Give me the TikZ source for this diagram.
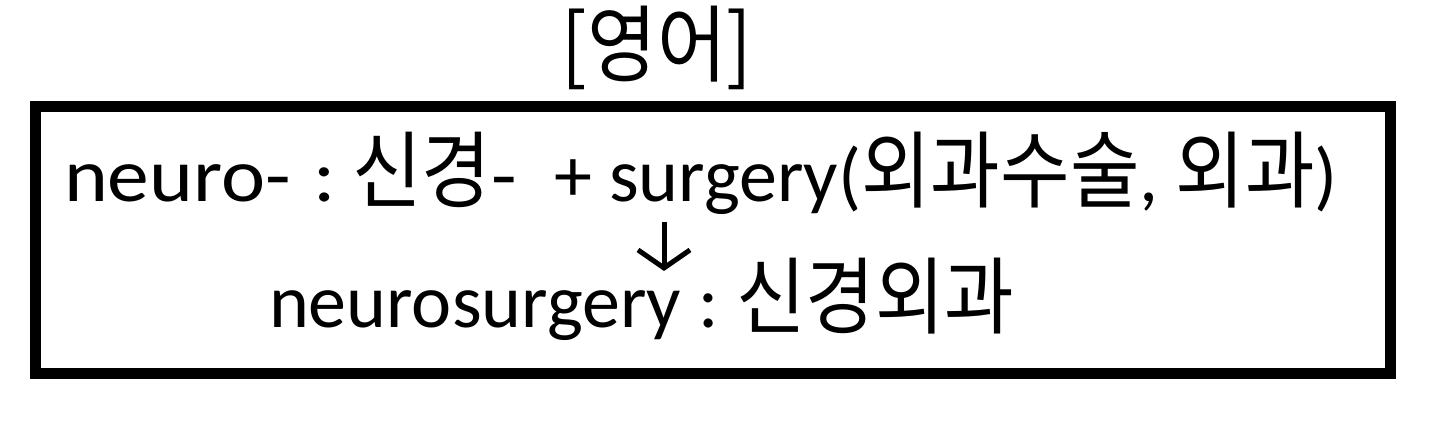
\documentclass[tikz,border=0pt]{standalone}
\usepackage{fontspec}
\usetikzlibrary{arrows.meta}
\newfontfamily\krfont[FakeStretch=0.9]{Noto Sans CJK KR}
\newfontfamily\calfont{Carlito}
\newfontfamily\calwidefont[FakeStretch=1.1]{Carlito}
\newcommand\KR{\fontsize{42}{48}\selectfont\krfont}
\newcommand\CA{\fontsize{38}{44}\selectfont\calfont}
\newcommand\CW{\fontsize{38}{44}\selectfont\calwidefont}
\begin{document}
\begin{tikzpicture}[x=0.5pt,y=-0.5pt,
  txt/.style={inner sep=0pt, outer sep=0pt, anchor=base west},
  frame/.style={draw, line width=5.5pt, inner sep=0pt, minimum width=677.5pt, minimum height=133.5pt},
  arr/.style={line width=2.5pt, -{Straight Barb[length=9pt, width=26pt]}}]
\useasboundingbox (0,0) rectangle (1441,443);
\node[frame] (box) at (713,240) {};
\node[inner sep=0pt, anchor=base] (title) at (657,76) {\KR [영어]};
\node[txt] (l1a) at (64,202) {\CW neuro-\hspace{2pt} :\hspace{-1.5pt}~\KR 신경\CW -};
\node[txt] (l1b) at (554,202) {\CA + surgery(\KR 외과수술\CA , \KR 외과\CA )};
\node[txt] (l2) at (269,328) {\CA neurosurgery :~\KR 신경외과};
\coordinate (as) at (664,222);
\coordinate (ae) at (664,271);
\draw[arr] (as) -- (ae);
\end{tikzpicture}
\end{document}
